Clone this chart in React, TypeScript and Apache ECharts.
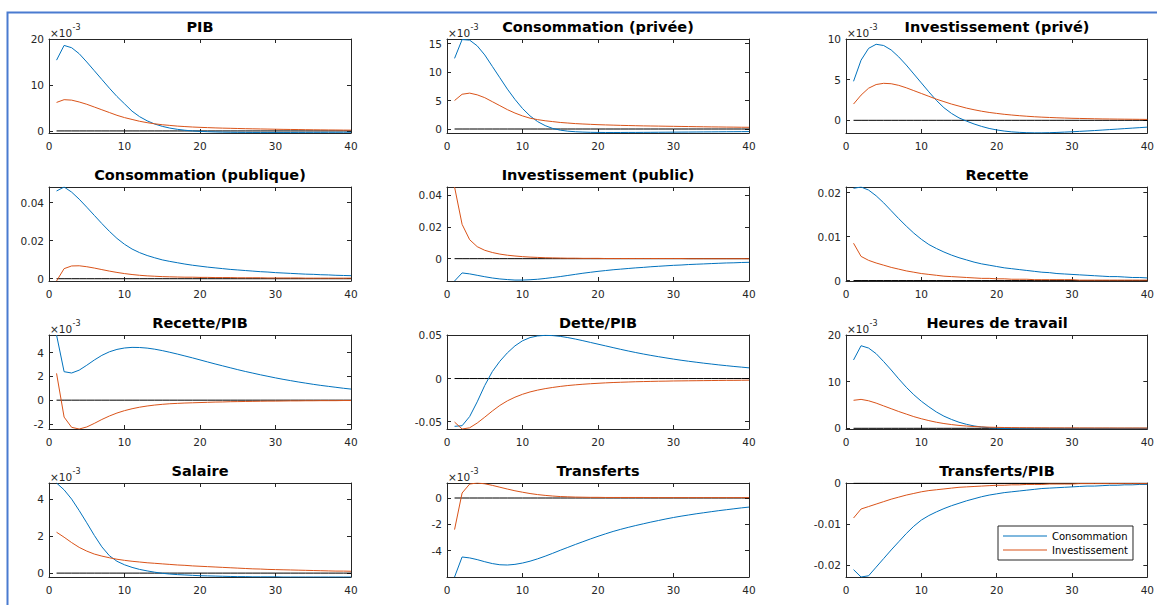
import { useEffect, useRef } from "react";
import * as echarts from "echarts";

// Horizon (quarters after the shock)
const periods = [
  1, 2, 3, 4, 5, 6, 7, 8, 9, 10, 11, 12, 13, 14, 15, 16, 17, 18, 19, 20,
  21, 22, 23, 24, 25, 26, 27, 28, 29, 30, 31, 32, 33, 34, 35, 36, 37, 38, 39, 40,
];
const xTicks = [0, 10, 20, 30, 40];

// PIB (x 1e-3)
const pibCons = [15.4, 18.6, 18.1, 16.8, 15.0, 13.1, 11.2, 9.3, 7.5, 5.9, 4.3, 3.1, 2.2, 1.5, 1.0, 0.62, 0.35, 0.15, 0.0, -0.1, -0.17, -0.22, -0.26, -0.29, -0.31, -0.32, -0.33, -0.33, -0.33, -0.33, -0.33, -0.33, -0.32, -0.32, -0.31, -0.31, -0.3, -0.3, -0.29, -0.29];
const pibInv = [6.2, 6.8, 6.7, 6.3, 5.8, 5.2, 4.6, 4.0, 3.4, 2.9, 2.5, 2.1, 1.8, 1.55, 1.35, 1.2, 1.05, 0.95, 0.85, 0.78, 0.72, 0.66, 0.61, 0.57, 0.53, 0.49, 0.46, 0.43, 0.4, 0.37, 0.34, 0.32, 0.3, 0.27, 0.25, 0.23, 0.21, 0.2, 0.18, 0.17];
const pibTicks = [0, 10, 20];

// Consommation privée (x 1e-3)
const consPrivCons = [12.4, 15.7, 15.6, 14.6, 13.0, 11.0, 9.0, 7.0, 5.2, 3.6, 2.3, 1.3, 0.6, 0.1, -0.2, -0.38, -0.48, -0.54, -0.58, -0.6, -0.61, -0.61, -0.61, -0.6, -0.6, -0.59, -0.58, -0.57, -0.56, -0.55, -0.54, -0.53, -0.52, -0.51, -0.5, -0.49, -0.48, -0.47, -0.46, -0.45];
const consPrivInv = [5.0, 6.1, 6.3, 6.0, 5.5, 4.8, 4.1, 3.4, 2.8, 2.3, 1.9, 1.65, 1.45, 1.3, 1.15, 1.05, 0.95, 0.88, 0.82, 0.76, 0.72, 0.68, 0.64, 0.61, 0.58, 0.55, 0.53, 0.51, 0.49, 0.47, 0.45, 0.43, 0.41, 0.39, 0.37, 0.36, 0.34, 0.33, 0.31, 0.3];
const consPrivTicks = [0, 5, 10, 15];

// Investissement privé (x 1e-3)
const invPrivCons = [4.8, 7.4, 8.85, 9.35, 9.2, 8.65, 7.8, 6.8, 5.7, 4.6, 3.5, 2.45, 1.55, 0.85, 0.3, -0.1, -0.45, -0.75, -1.0, -1.18, -1.32, -1.42, -1.48, -1.52, -1.54, -1.54, -1.52, -1.49, -1.45, -1.41, -1.36, -1.31, -1.26, -1.2, -1.14, -1.08, -1.02, -0.96, -0.9, -0.84];
const invPrivInv = [2.0, 3.1, 3.95, 4.4, 4.55, 4.5, 4.3, 4.0, 3.65, 3.3, 2.95, 2.6, 2.3, 2.0, 1.75, 1.5, 1.3, 1.12, 0.97, 0.85, 0.74, 0.65, 0.57, 0.5, 0.44, 0.39, 0.35, 0.31, 0.28, 0.25, 0.23, 0.21, 0.19, 0.17, 0.16, 0.15, 0.14, 0.13, 0.12, 0.11];
const invPrivTicks = [0, 5, 10];

// Consommation publique
const consPubCons = [0.0461, 0.0482, 0.0455, 0.0418, 0.0376, 0.0333, 0.029, 0.0249, 0.0212, 0.0181, 0.0156, 0.0137, 0.0122, 0.011, 0.0099, 0.0091, 0.0084, 0.0077, 0.0071, 0.0066, 0.0061, 0.0057, 0.0053, 0.0049, 0.0046, 0.0043, 0.004, 0.0037, 0.0035, 0.0032, 0.003, 0.0028, 0.0026, 0.0024, 0.0023, 0.0021, 0.002, 0.0018, 0.0017, 0.0016];
const consPubInv = [-0.0012, 0.0053, 0.0067, 0.0068, 0.0063, 0.0056, 0.0048, 0.004, 0.0033, 0.0027, 0.0022, 0.0018, 0.0015, 0.0013, 0.0011, 0.001, 0.0009, 0.0008, 0.0008, 0.0007, 0.0007, 0.0006, 0.0006, 0.0006, 0.0005, 0.0005, 0.0005, 0.0005, 0.0004, 0.0004, 0.0004, 0.0004, 0.0004, 0.0003, 0.0003, 0.0003, 0.0003, 0.0003, 0.0003, 0.0003];
const consPubTicks = [0, 0.02, 0.04];

// Investissement public
const invPubCons = [-0.0141, -0.009, -0.0096, -0.0105, -0.0114, -0.0122, -0.0128, -0.0132, -0.0135, -0.0135, -0.0133, -0.013, -0.0125, -0.0119, -0.0113, -0.0106, -0.0099, -0.0092, -0.0086, -0.008, -0.0075, -0.007, -0.0066, -0.0062, -0.0058, -0.0055, -0.0051, -0.0048, -0.0045, -0.0042, -0.004, -0.0037, -0.0035, -0.0033, -0.0031, -0.0029, -0.0027, -0.0026, -0.0024, -0.0023];
const invPubInv = [0.0453, 0.0217, 0.012, 0.0076, 0.0053, 0.0039, 0.0029, 0.0022, 0.0017, 0.0013, 0.001, 0.0008, 0.0006, 0.0005, 0.0004, 0.0003, 0.0003, 0.0002, 0.0002, 0.0002, 0.0001, 0.0001, 0.0001, 0.0001, 0.0001, 0.0001, 0.0001, 0.0001, 0.0001, 0.0001, 0.0001, 0, 0, 0, 0, 0, 0, 0, 0, 0];
const invPubTicks = [0, 0.02, 0.04];

// Recette
const recCons = [0.021, 0.0213, 0.0206, 0.0193, 0.0177, 0.0159, 0.0141, 0.0124, 0.0108, 0.0094, 0.0082, 0.0073, 0.0065, 0.0058, 0.0052, 0.0047, 0.0042, 0.0038, 0.0035, 0.0032, 0.0029, 0.0027, 0.0025, 0.0023, 0.0021, 0.0019, 0.0018, 0.0016, 0.0015, 0.0014, 0.0013, 0.0012, 0.0011, 0.001, 0.0009, 0.0009, 0.0008, 0.0007, 0.0007, 0.0006];
const recInv = [0.0085, 0.0055, 0.0046, 0.004, 0.0035, 0.003, 0.0026, 0.0022, 0.0019, 0.0016, 0.0014, 0.0012, 0.001, 0.0009, 0.0008, 0.0007, 0.0006, 0.0005, 0.0005, 0.0004, 0.0004, 0.0003, 0.0003, 0.0003, 0.0002, 0.0002, 0.0002, 0.0002, 0.0002, 0.0002, 0.0001, 0.0001, 0.0001, 0.0001, 0.0001, 0.0001, 0.0001, 0.0001, 0.0001, 0.0001];
const recTicks = [0, 0.01, 0.02];

// Recette/PIB (x 1e-3)
const recPibCons = [5.47, 2.39, 2.28, 2.52, 2.93, 3.37, 3.76, 4.06, 4.26, 4.38, 4.43, 4.42, 4.37, 4.28, 4.16, 4.02, 3.87, 3.71, 3.55, 3.38, 3.21, 3.04, 2.88, 2.72, 2.56, 2.41, 2.27, 2.13, 2.0, 1.87, 1.75, 1.64, 1.53, 1.43, 1.33, 1.24, 1.16, 1.08, 1.0, 0.93];
const recPibInv = [2.25, -1.42, -2.28, -2.42, -2.25, -1.95, -1.62, -1.33, -1.08, -0.88, -0.72, -0.59, -0.49, -0.41, -0.35, -0.3, -0.27, -0.24, -0.22, -0.2, -0.18, -0.16, -0.15, -0.13, -0.12, -0.11, -0.1, -0.09, -0.08, -0.08, -0.07, -0.06, -0.06, -0.05, -0.05, -0.04, -0.04, -0.04, -0.03, -0.03];
const recPibTicks = [-2, 0, 2, 4];

// Dette/PIB
const detteCons = [-0.0553, -0.0546, -0.044, -0.027, -0.008, 0.008, 0.02, 0.0298, 0.0378, 0.0437, 0.0474, 0.0493, 0.05, 0.0497, 0.0488, 0.0474, 0.0457, 0.0438, 0.0418, 0.0398, 0.0378, 0.0358, 0.0338, 0.0319, 0.0301, 0.0284, 0.0268, 0.0253, 0.0239, 0.0225, 0.0212, 0.02, 0.0189, 0.0178, 0.0168, 0.0158, 0.0149, 0.014, 0.0132, 0.0124];
const detteInv = [-0.0504, -0.0584, -0.057, -0.0515, -0.0447, -0.0376, -0.0311, -0.0258, -0.0216, -0.0182, -0.0155, -0.0134, -0.0117, -0.0103, -0.0091, -0.0081, -0.0073, -0.0066, -0.006, -0.0055, -0.005, -0.0046, -0.0043, -0.004, -0.0037, -0.0035, -0.0033, -0.0031, -0.003, -0.0028, -0.0027, -0.0026, -0.0025, -0.0024, -0.0023, -0.0022, -0.0021, -0.0021, -0.002, -0.0019];
const detteTicks = [-0.05, 0, 0.05];

// Heures de travail (x 1e-3)
const heuresCons = [14.65, 17.7, 17.2, 16.0, 14.3, 12.5, 10.6, 8.8, 7.2, 5.8, 4.6, 3.5, 2.6, 1.9, 1.3, 0.85, 0.5, 0.28, 0.12, 0.02, -0.04, -0.08, -0.1, -0.11, -0.12, -0.12, -0.12, -0.12, -0.11, -0.11, -0.1, -0.1, -0.09, -0.09, -0.08, -0.08, -0.07, -0.07, -0.06, -0.06];
const heuresInv = [6.0, 6.2, 5.9, 5.4, 4.8, 4.2, 3.6, 3.05, 2.5, 2.05, 1.65, 1.3, 1.02, 0.8, 0.62, 0.48, 0.38, 0.3, 0.24, 0.2, 0.17, 0.15, 0.13, 0.12, 0.11, 0.1, 0.09, 0.09, 0.08, 0.08, 0.07, 0.07, 0.06, 0.06, 0.06, 0.05, 0.05, 0.05, 0.05, 0.04];
const heuresTicks = [0, 10, 20];

// Salaire (x 1e-3)
const salaireCons = [4.87, 4.5, 4.0, 3.38, 2.72, 2.04, 1.42, 0.94, 0.64, 0.45, 0.31, 0.2, 0.12, 0.05, -0.01, -0.05, -0.08, -0.1, -0.12, -0.14, -0.15, -0.16, -0.17, -0.18, -0.19, -0.19, -0.2, -0.2, -0.2, -0.2, -0.21, -0.21, -0.21, -0.21, -0.21, -0.21, -0.21, -0.21, -0.21, -0.21];
const salaireInv = [2.21, 1.94, 1.65, 1.39, 1.19, 1.03, 0.92, 0.83, 0.75, 0.69, 0.64, 0.6, 0.56, 0.53, 0.5, 0.47, 0.44, 0.42, 0.39, 0.37, 0.35, 0.33, 0.31, 0.29, 0.27, 0.25, 0.23, 0.22, 0.2, 0.19, 0.18, 0.17, 0.16, 0.15, 0.14, 0.13, 0.12, 0.11, 0.11, 0.1];
const salaireTicks = [0, 2, 4];

// Transferts (x 1e-3)
const transCons = [-6.0, -4.48, -4.55, -4.68, -4.84, -4.98, -5.07, -5.09, -5.04, -4.94, -4.8, -4.62, -4.42, -4.2, -3.97, -3.75, -3.53, -3.32, -3.11, -2.91, -2.72, -2.54, -2.38, -2.23, -2.09, -1.96, -1.83, -1.71, -1.59, -1.48, -1.38, -1.29, -1.2, -1.12, -1.04, -0.96, -0.89, -0.82, -0.75, -0.69];
const transInv = [-2.4, 0.38, 1.06, 1.14, 1.08, 0.96, 0.82, 0.68, 0.55, 0.44, 0.34, 0.26, 0.2, 0.15, 0.11, 0.09, 0.07, 0.06, 0.05, 0.05, 0.04, 0.04, 0.04, 0.04, 0.04, 0.04, 0.03, 0.03, 0.03, 0.03, 0.03, 0.03, 0.03, 0.03, 0.03, 0.03, 0.03, 0.03, 0.03, 0.03];
const transTicks = [-4, -2, 0];

// Transferts/PIB
const transPibCons = [-0.0211, -0.0229, -0.0226, -0.0205, -0.0184, -0.0163, -0.0143, -0.0123, -0.0105, -0.009, -0.0079, -0.007, -0.0062, -0.0055, -0.0049, -0.0043, -0.0038, -0.0033, -0.0029, -0.0026, -0.0023, -0.0021, -0.0019, -0.0017, -0.0015, -0.0013, -0.0012, -0.0011, -0.001, -0.0009, -0.0008, -0.0007, -0.0007, -0.0006, -0.0005, -0.0005, -0.0004, -0.0004, -0.0003, -0.0003];
const transPibInv = [-0.0085, -0.0063, -0.0057, -0.0051, -0.0045, -0.0039, -0.0034, -0.0029, -0.0025, -0.0021, -0.0018, -0.0016, -0.0014, -0.0012, -0.001, -0.0009, -0.0008, -0.0007, -0.0006, -0.0005, -0.0005, -0.0004, -0.0004, -0.0003, -0.0003, -0.0003, -0.0002, -0.0002, -0.0002, -0.0002, -0.0001, -0.0001, -0.0001, -0.0001, -0.0001, -0.0001, -0.0001, -0.0001, -0.0001, -0.0001];
const transPibTicks = [-0.02, -0.01, 0];

const seriesNames = ["Consommation", "Investissement"];

type Panel = {
  title: string;
  cons: number[];
  inv: number[];
  yMin: number;
  yMax: number;
  ticks: number[];
  milli?: boolean;
};

const panels: Panel[] = [
  { title: "PIB", cons: pibCons, inv: pibInv, yMin: -0.45, yMax: 20, ticks: pibTicks, milli: true },
  { title: "Consommation (privée)", cons: consPrivCons, inv: consPrivInv, yMin: -0.7, yMax: 15.8, ticks: consPrivTicks, milli: true },
  { title: "Investissement (privé)", cons: invPrivCons, inv: invPrivInv, yMin: -1.56, yMax: 10, ticks: invPrivTicks, milli: true },
  { title: "Consommation (publique)", cons: consPubCons, inv: consPubInv, yMin: -0.0012, yMax: 0.0482, ticks: consPubTicks },
  { title: "Investissement (public)", cons: invPubCons, inv: invPubInv, yMin: -0.0141, yMax: 0.0453, ticks: invPubTicks },
  { title: "Recette", cons: recCons, inv: recInv, yMin: -0.0001, yMax: 0.0213, ticks: recTicks },
  { title: "Recette/PIB", cons: recPibCons, inv: recPibInv, yMin: -2.42, yMax: 5.47, ticks: recPibTicks, milli: true },
  { title: "Dette/PIB", cons: detteCons, inv: detteInv, yMin: -0.0584, yMax: 0.0504, ticks: detteTicks },
  { title: "Heures de travail", cons: heuresCons, inv: heuresInv, yMin: -0.15, yMax: 20, ticks: heuresTicks, milli: true },
  { title: "Salaire", cons: salaireCons, inv: salaireInv, yMin: -0.21, yMax: 4.87, ticks: salaireTicks, milli: true },
  { title: "Transferts", cons: transCons, inv: transInv, yMin: -6.0, yMax: 1.14, ticks: transTicks, milli: true },
  { title: "Transferts/PIB", cons: transPibCons, inv: transPibInv, yMin: -0.0229, yMax: 0.00005, ticks: transPibTicks },
];

// Layout of the 4 x 3 subplot grid
const COL_LEFT = [49, 447, 846];
const ROW_TOP = [39, 187, 335, 483];
const PLOT_W = 302;
const PLOT_H = 94;

const FONT = '"DejaVu Sans", "Liberation Sans", sans-serif';
const AXIS_COLOR = "#262626";
const BLUE = "#0072BD";
const ORANGE = "#D95319";

function fmt(v: number, milli?: boolean) {
  if (milli) return String(v);
  return String(Number(v.toFixed(4)));
}

function buildOption() {
  const grid: any[] = [];
  const xAxis: any[] = [];
  const yAxis: any[] = [];
  const series: any[] = [];
  const graphic: any[] = [];

  const lineStyle = { color: AXIS_COLOR, width: 1 };
  const tick = { show: true, inside: true, length: 4, lineStyle: { color: AXIS_COLOR, width: 1 } };

  graphic.push({
    type: "rect",
    silent: true,
    z: 0,
    shape: { x: 7.5, y: 12.5, width: 1400, height: 900 },
    style: { fill: "none", stroke: "#4a7bd0", lineWidth: 2 },
  });

  panels.forEach((p, i) => {
    const r = Math.floor(i / 3);
    const c = i % 3;
    const left = COL_LEFT[c];
    const top = ROW_TOP[r];
    grid.push({ left, top, width: PLOT_W, height: PLOT_H, show: false });

    const xBase = {
      type: "value",
      gridIndex: i,
      min: 0,
      max: 40,
      interval: 10,
      splitLine: { show: false },
      axisLine: { show: true, onZero: false, lineStyle },
      axisTick: { ...tick, customValues: xTicks },
    };
    xAxis.push({
      ...xBase,
      position: "bottom",
      axisLabel: {
        show: true,
        customValues: xTicks,
        color: AXIS_COLOR,
        fontSize: 10.5,
        fontFamily: FONT,
        margin: 7,
      },
    });
    xAxis.push({ ...xBase, position: "top", axisLabel: { show: false } });

    const yBase = {
      type: "value",
      gridIndex: i,
      min: p.yMin,
      max: p.yMax,
      splitLine: { show: false },
      axisLine: { show: true, onZero: false, lineStyle },
      axisTick: { ...tick, customValues: p.ticks },
    };
    yAxis.push({
      ...yBase,
      position: "left",
      axisLabel: {
        show: true,
        customValues: p.ticks,
        formatter: (v: number) => fmt(v, p.milli),
        color: AXIS_COLOR,
        fontSize: 10.5,
        fontFamily: FONT,
        margin: 5,
      },
    });
    yAxis.push({ ...yBase, position: "right", axisLabel: { show: false } });

    const xi = 2 * i;
    const yi = 2 * i;
    series.push({
      type: "line",
      xAxisIndex: xi,
      yAxisIndex: yi,
      data: periods.map((x) => [x, 0]),
      symbol: "none",
      silent: true,
      lineStyle: { color: "#000", width: 1 },
      z: 2,
    });
    series.push({
      type: "line",
      name: seriesNames[0],
      xAxisIndex: xi,
      yAxisIndex: yi,
      data: periods.map((x, k) => [x, p.cons[k]]),
      symbol: "none",
      silent: true,
      itemStyle: { color: BLUE },
      lineStyle: { color: BLUE, width: 1 },
      z: 3,
    });
    series.push({
      type: "line",
      name: seriesNames[1],
      xAxisIndex: xi,
      yAxisIndex: yi,
      data: periods.map((x, k) => [x, p.inv[k]]),
      symbol: "none",
      silent: true,
      itemStyle: { color: ORANGE },
      lineStyle: { color: ORANGE, width: 1 },
      z: 4,
    });

    graphic.push({
      type: "text",
      x: left + PLOT_W / 2,
      y: top - 12.5,
      silent: true,
      style: {
        text: p.title,
        fontSize: 14.5,
        fontWeight: "bold",
        fontFamily: FONT,
        fill: "#000",
        align: "center",
        verticalAlign: "middle",
      },
    });

    if (p.milli) {
      graphic.push({
        type: "text",
        x: left + 1,
        y: top - 6.5,
        silent: true,
        style: {
          text: "×10",
          fontSize: 10.5,
          fontFamily: FONT,
          fill: AXIS_COLOR,
          align: "left",
          verticalAlign: "middle",
        },
      });
      graphic.push({
        type: "text",
        x: left + 23.5,
        y: top - 11.5,
        silent: true,
        style: {
          text: "-3",
          fontSize: 8,
          fontFamily: FONT,
          fill: AXIS_COLOR,
          align: "left",
          verticalAlign: "middle",
        },
      });
    }
  });

  return {
    animation: false,
    backgroundColor: "#fff",
    grid,
    xAxis,
    yAxis,
    series,
    graphic,
    legend: {
      show: true,
      data: seriesNames.map((name) => ({ name, icon: "rect" })),
      orient: "vertical",
      left: 998,
      top: 526,
      itemWidth: 44,
      itemHeight: 1.2,
      itemGap: 2,
      padding: [4, 5, 4, 5],
      selectedMode: false,
      backgroundColor: "#fff",
      borderColor: AXIS_COLOR,
      borderWidth: 1,
      borderRadius: 0,
      textStyle: { fontSize: 10, lineHeight: 12, fontFamily: FONT, color: "#000" },
      z: 10,
    },
  };
}

export default function App() {
  const ref = useRef<HTMLDivElement>(null);

  useEffect(() => {
    if (!ref.current) return;
    const chart = echarts.init(ref.current, null, { renderer: "svg" });
    chart.setOption(buildOption() as any);
    return () => chart.dispose();
  }, []);

  return (
    <div
      ref={ref}
      style={{ position: "fixed", left: 0, top: 0, width: 1157, height: 605, background: "#fff" }}
    />
  );
}
